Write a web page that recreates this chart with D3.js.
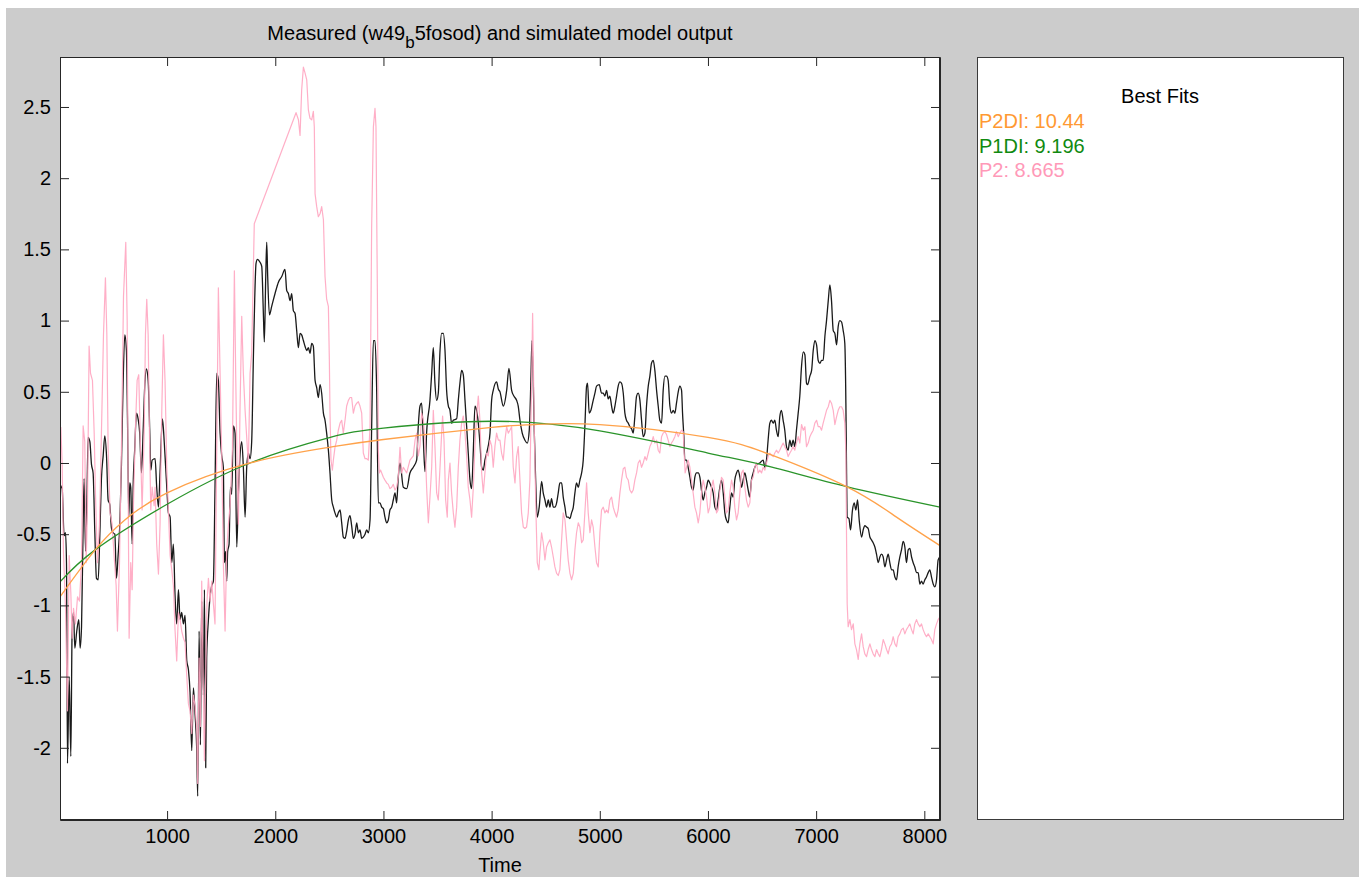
<!DOCTYPE html>
<html>
<head>
<meta charset="utf-8">
<script src="https://cdn.jsdelivr.net/npm/d3@7/dist/d3.min.js"></script>
<style>
  html, body { margin: 0; padding: 0; background: #ffffff; }
  svg { display: block; }
  text { font-family: "Liberation Sans", Arial, Helvetica, sans-serif; }
</style>
</head>
<body>
<svg id="chart" width="1359" height="877"></svg>
<script>
// Measured output (time, value)
const measured = [[10,-0.15],[24,-0.17],[30,-0.18],[48,-0.51],[61,-0.49],[70,-0.70],[79,-2.11],[95,-1.50],[110,-2.06],[122,-1.18],[135,-1.05],[147,-1.30],[165,-1.18],[184,-1.10],[196,-1.30],[209,-1.15],[221,-0.59],[233,-0.11],[246,-0.62],[258,-0.30],[270,0.18],[286,0.15],[301,-0.01],[316,-0.07],[332,-0.49],[347,-0.81],[363,-0.82],[378,-0.51],[393,-0.11],[409,0.05],[424,0.19],[440,0.05],[455,-0.26],[470,-0.29],[486,-0.46],[501,-0.49],[517,-0.50],[532,-0.81],[547,-0.65],[563,-0.43],[578,-0.01],[594,0.58],[609,0.90],[624,0.79],[634,0.31],[646,-0.38],[655,-0.14],[664,-0.17],[677,-0.57],[686,-0.17],[701,0.10],[717,0.35],[732,0.31],[747,0.21],[763,-0.07],[778,0.21],[794,0.55],[809,0.66],[825,0.58],[840,0.21],[849,-0.05],[862,0.02],[889,0.03],[904,-0.17],[920,-0.31],[935,-0.06],[957,0.31],[975,0.13],[997,-0.17],[1012,-0.35],[1028,-0.38],[1043,-0.70],[1058,-0.57],[1074,-0.94],[1089,-1.13],[1105,-0.89],[1120,-1.10],[1135,-1.05],[1151,-1.13],[1166,-1.07],[1182,-1.39],[1197,-1.45],[1212,-1.61],[1228,-2.02],[1243,-1.58],[1259,-1.77],[1274,-2.01],[1283,-2.34],[1296,-1.18],[1308,-1.98],[1320,-0.97],[1336,-1.63],[1345,-0.89],[1357,-2.14],[1366,-1.37],[1382,-1.10],[1397,-0.94],[1413,-0.86],[1428,-0.83],[1443,-0.17],[1459,0.63],[1474,0.58],[1490,0.21],[1505,0.05],[1520,-0.03],[1530,-0.70],[1542,-0.62],[1551,-0.83],[1560,-0.62],[1573,-0.57],[1585,-0.17],[1597,-0.22],[1613,0.26],[1628,0.21],[1644,-0.59],[1659,-0.22],[1674,0.05],[1690,0.15],[1705,-0.03],[1721,-0.38],[1736,-0.03],[1751,0.07],[1767,0.03],[1782,0.15],[1798,0.75],[1810,1.15],[1822,1.40],[1835,1.43],[1859,1.41],[1875,1.38],[1890,1.05],[1899,0.85],[1912,1.31],[1921,1.55],[1930,1.31],[1946,1.04],[1967,1.10],[1998,1.19],[2029,1.27],[2060,1.31],[2090,1.36],[2106,1.21],[2121,1.19],[2137,1.14],[2152,1.19],[2167,1.07],[2183,1.05],[2198,0.93],[2214,0.81],[2229,0.91],[2244,0.90],[2260,0.86],[2275,0.82],[2291,0.79],[2306,0.81],[2321,0.77],[2337,0.84],[2352,0.82],[2368,0.58],[2383,0.53],[2398,0.46],[2414,0.55],[2429,0.49],[2445,0.35],[2460,0.30],[2475,0.21],[2491,0.09],[2506,-0.07],[2522,-0.26],[2537,-0.31],[2552,-0.35],[2568,-0.38],[2583,-0.35],[2599,-0.33],[2614,-0.42],[2629,-0.52],[2645,-0.53],[2660,-0.48],[2676,-0.40],[2691,-0.37],[2706,-0.44],[2722,-0.53],[2737,-0.50],[2753,-0.42],[2768,-0.49],[2783,-0.47],[2799,-0.53],[2814,-0.52],[2830,-0.50],[2845,-0.47],[2860,-0.49],[2876,-0.40],[2891,0.25],[2907,0.86],[2922,0.86],[2937,0.53],[2953,-0.28],[2968,-0.28],[2984,-0.31],[2999,-0.32],[3014,-0.38],[3030,-0.42],[3045,-0.40],[3060,-0.33],[3076,-0.31],[3091,-0.26],[3107,-0.21],[3122,-0.28],[3137,-0.10],[3153,0.0],[3184,-0.17],[3215,-0.18],[3245,-0.07],[3276,-0.03],[3307,0.02],[3322,0.26],[3338,0.40],[3353,0.42],[3369,0.16],[3384,-0.06],[3399,0.21],[3430,0.44],[3446,0.63],[3461,0.81],[3476,0.56],[3492,0.44],[3507,0.49],[3523,0.79],[3538,0.91],[3553,0.91],[3569,0.79],[3584,0.51],[3600,0.40],[3615,0.37],[3630,0.28],[3646,0.30],[3677,0.31],[3692,0.44],[3707,0.56],[3723,0.65],[3738,0.62],[3754,0.44],[3769,0.26],[3784,0.07],[3800,-0.12],[3815,-0.18],[3831,0.09],[3846,0.40],[3861,0.37],[3877,0.28],[3892,0.14],[3908,-0.03],[3923,-0.05],[3938,0.02],[3954,0.07],[3969,0.12],[3985,0.21],[4000,0.44],[4015,0.51],[4046,0.57],[4062,0.52],[4077,0.50],[4108,0.40],[4139,0.51],[4160,0.665],[4185,0.51],[4206,0.47],[4231,0.44],[4246,0.40],[4262,0.30],[4283,0.21],[4308,0.16],[4330,0.14],[4348,0.23],[4363,0.58],[4373,0.86],[4385,0.58],[4394,0.23],[4407,-0.12],[4422,-0.38],[4440,-0.31],[4462,-0.13],[4477,-0.21],[4493,-0.26],[4508,-0.31],[4524,-0.26],[4539,-0.31],[4554,-0.25],[4570,-0.31],[4585,-0.31],[4601,-0.28],[4616,-0.21],[4631,-0.14],[4647,-0.14],[4662,-0.24],[4678,-0.31],[4693,-0.38],[4708,-0.38],[4724,-0.39],[4739,-0.35],[4755,-0.31],[4770,-0.21],[4785,-0.14],[4801,-0.17],[4816,-0.12],[4832,-0.07],[4847,0.02],[4862,0.255],[4878,0.54],[4887,0.56],[4902,0.35],[4918,0.37],[4939,0.44],[4955,0.49],[4970,0.54],[4995,0.55],[5016,0.49],[5032,0.49],[5047,0.47],[5063,0.51],[5078,0.45],[5093,0.47],[5109,0.40],[5124,0.35],[5140,0.40],[5155,0.47],[5170,0.54],[5186,0.57],[5201,0.56],[5217,0.49],[5232,0.35],[5247,0.30],[5263,0.28],[5278,0.255],[5294,0.24],[5309,0.21],[5324,0.325],[5340,0.47],[5355,0.49],[5371,0.44],[5386,0.30],[5401,0.185],[5417,0.21],[5432,0.40],[5448,0.54],[5463,0.61],[5478,0.70],[5494,0.72],[5509,0.65],[5525,0.51],[5540,0.40],[5555,0.30],[5571,0.28],[5586,0.51],[5602,0.61],[5617,0.61],[5632,0.58],[5648,0.40],[5663,0.35],[5679,0.37],[5694,0.35],[5709,0.42],[5725,0.50],[5740,0.54],[5756,0.51],[5765,0.35],[5777,0.185],[5786,0.02],[5802,0.02],[5817,-0.03],[5833,-0.10],[5848,-0.17],[5863,-0.19],[5879,-0.10],[5894,-0.07],[5910,-0.07],[5925,-0.10],[5940,-0.19],[5956,-0.26],[5971,-0.21],[5987,-0.17],[6002,-0.12],[6017,-0.14],[6033,-0.17],[6048,-0.21],[6064,-0.31],[6079,-0.33],[6094,-0.26],[6110,-0.17],[6125,-0.12],[6141,-0.21],[6156,-0.35],[6171,-0.40],[6187,-0.42],[6202,-0.31],[6218,-0.21],[6233,-0.24],[6248,-0.12],[6264,-0.07],[6279,-0.05],[6295,-0.10],[6310,-0.17],[6325,-0.12],[6341,-0.07],[6356,-0.12],[6372,-0.19],[6387,-0.24],[6402,-0.12],[6418,-0.07],[6433,-0.03],[6449,-0.01],[6479,0.0],[6510,0.02],[6526,-0.03],[6541,0.02],[6556,0.16],[6572,0.28],[6587,0.30],[6603,0.28],[6618,0.30],[6633,0.23],[6649,0.185],[6664,0.325],[6679,0.37],[6695,0.30],[6710,0.23],[6726,0.115],[6741,0.09],[6757,0.16],[6772,0.115],[6787,0.16],[6803,0.115],[6818,0.23],[6834,0.35],[6849,0.47],[6865,0.68],[6881,0.78],[6896,0.76],[6911,0.56],[6921,0.55],[6942,0.61],[6958,0.65],[6973,0.79],[6988,0.86],[7004,0.83],[7019,0.72],[7035,0.70],[7050,0.72],[7065,0.72],[7081,0.89],[7096,1.00],[7112,1.14],[7127,1.25],[7142,1.14],[7158,0.93],[7173,0.91],[7189,0.83],[7204,0.96],[7219,1.00],[7235,0.99],[7250,0.93],[7265,0.84],[7275,0.42],[7281,-0.05],[7287,-0.38],[7303,-0.39],[7318,-0.47],[7336,-0.33],[7352,-0.28],[7367,-0.33],[7383,-0.26],[7398,-0.40],[7420,-0.52],[7435,-0.47],[7450,-0.44],[7466,-0.45],[7481,-0.46],[7497,-0.52],[7512,-0.54],[7527,-0.56],[7543,-0.59],[7558,-0.64],[7574,-0.70],[7589,-0.66],[7604,-0.64],[7620,-0.66],[7635,-0.73],[7651,-0.68],[7666,-0.64],[7681,-0.70],[7697,-0.75],[7712,-0.75],[7728,-0.80],[7743,-0.82],[7758,-0.73],[7774,-0.66],[7789,-0.61],[7805,-0.55],[7820,-0.59],[7835,-0.70],[7851,-0.61],[7866,-0.60],[7882,-0.66],[7897,-0.70],[7912,-0.73],[7928,-0.77],[7943,-0.77],[7959,-0.85],[7974,-0.83],[7989,-0.85],[8005,-0.82],[8020,-0.80],[8036,-0.77],[8051,-0.75],[8066,-0.80],[8082,-0.85],[8097,-0.87],[8113,-0.82],[8128,-0.68],[8145,-0.66]];

// Simulated output of model P2 (time, value)
const simP2 = [[10,0.25],[18,0.25],[30,-0.01],[42,-0.62],[61,-1.02],[79,-1.74],[95,-0.65],[110,-0.91],[122,-1.23],[135,-1.02],[153,-1.13],[172,-0.94],[190,-0.97],[209,-0.70],[224,0.26],[239,0.15],[252,-0.70],[264,-0.30],[279,0.82],[292,0.63],[310,0.58],[326,0.21],[338,-0.22],[356,-0.70],[375,-0.43],[393,0.21],[412,0.90],[430,1.30],[443,0.90],[455,0.10],[473,-0.35],[492,-0.43],[510,-0.65],[529,-0.86],[541,-1.18],[560,-0.70],[578,0.10],[597,1.17],[618,1.55],[631,1.00],[640,-0.17],[649,-1.23],[664,-0.70],[677,-0.89],[689,-0.30],[708,0.26],[723,0.58],[738,0.62],[751,0.21],[769,-0.33],[788,0.21],[800,0.90],[812,1.15],[825,0.90],[837,0.21],[849,-0.33],[862,-0.17],[880,-0.30],[889,-0.17],[904,-0.57],[920,-0.78],[935,-0.43],[951,0.37],[966,0.90],[981,0.58],[997,-0.03],[1012,-0.33],[1028,-0.65],[1043,-0.75],[1058,-0.86],[1074,-1.18],[1089,-1.39],[1105,-1.05],[1120,-1.10],[1135,-1.18],[1151,-1.23],[1166,-1.26],[1182,-1.50],[1197,-1.69],[1212,-1.74],[1228,-1.90],[1243,-1.63],[1259,-1.71],[1274,-1.87],[1283,-2.25],[1296,-1.37],[1308,-1.85],[1320,-0.83],[1336,-1.63],[1345,-2.09],[1357,-1.50],[1369,-0.97],[1382,-0.81],[1397,-0.97],[1413,-0.83],[1428,-0.99],[1443,-1.13],[1459,0.10],[1474,1.23],[1490,0.63],[1505,0.05],[1520,-0.70],[1536,-1.18],[1551,-0.62],[1567,-0.43],[1582,-0.30],[1604,0.10],[1622,1.35],[1634,0.63],[1647,-0.03],[1659,-0.43],[1674,0.37],[1690,1.03],[1705,0.63],[1721,0.37],[1736,0.18],[1751,-0.01],[1767,0.63],[1782,0.77],[1798,1.38],[1806,1.68],[2192,2.46],[2214,2.41],[2229,2.30],[2244,2.62],[2260,2.78],[2275,2.74],[2291,2.69],[2306,2.48],[2321,2.42],[2337,2.41],[2352,2.47],[2361,2.36],[2368,1.89],[2383,1.80],[2398,1.73],[2414,1.75],[2429,1.80],[2445,1.71],[2460,1.31],[2475,1.15],[2491,1.10],[2500,0.72],[2506,0.35],[2515,0.02],[2528,-0.05],[2537,0.02],[2552,0.11],[2568,0.16],[2583,0.23],[2599,0.28],[2614,0.30],[2629,0.21],[2645,0.30],[2660,0.40],[2676,0.44],[2691,0.46],[2706,0.46],[2722,0.35],[2737,0.40],[2753,0.42],[2768,0.43],[2783,0.40],[2799,0.35],[2814,0.07],[2830,0.03],[2845,0.03],[2860,0.02],[2876,0.25],[2891,1.66],[2907,2.36],[2922,2.49],[2931,2.36],[2944,1.19],[2953,0.09],[2962,-0.07],[2974,-0.05],[2984,-0.07],[2999,-0.10],[3014,-0.12],[3030,-0.14],[3045,-0.15],[3060,-0.18],[3076,-0.17],[3091,-0.15],[3107,-0.19],[3122,-0.17],[3137,-0.10],[3153,0.11],[3168,-0.07],[3184,-0.03],[3215,-0.07],[3245,0.02],[3276,0.05],[3292,0.16],[3307,0.21],[3322,0.05],[3338,0.12],[3353,0.35],[3369,0.30],[3384,0.16],[3399,-0.17],[3415,-0.42],[3430,-0.24],[3446,-0.03],[3461,0.37],[3476,0.12],[3492,-0.21],[3507,-0.26],[3523,-0.03],[3538,0.21],[3547,0.33],[3560,0.16],[3575,-0.26],[3590,-0.38],[3600,-0.12],[3615,0.0],[3630,-0.21],[3646,-0.35],[3661,-0.45],[3677,-0.31],[3692,-0.03],[3707,0.16],[3723,0.28],[3738,0.33],[3754,0.21],[3769,0.05],[3784,-0.17],[3800,-0.26],[3815,-0.38],[3831,-0.17],[3846,0.12],[3861,0.33],[3877,0.47],[3892,0.30],[3908,-0.07],[3923,-0.21],[3938,-0.07],[3954,0.07],[3969,0.05],[3985,0.16],[4000,0.12],[4015,-0.03],[4031,0.12],[4046,0.21],[4062,0.16],[4077,0.16],[4092,0.07],[4108,0.02],[4123,0.16],[4139,0.255],[4154,0.21],[4169,0.23],[4185,0.255],[4200,-0.03],[4216,-0.14],[4231,0.045],[4246,0.115],[4262,-0.12],[4277,-0.35],[4293,-0.45],[4308,-0.46],[4323,-0.45],[4339,-0.35],[4354,-0.12],[4370,0.58],[4379,1.05],[4388,0.58],[4397,0.115],[4410,-0.35],[4422,-0.70],[4437,-0.75],[4447,-0.63],[4462,-0.49],[4477,-0.56],[4493,-0.68],[4508,-0.59],[4524,-0.56],[4539,-0.54],[4554,-0.59],[4570,-0.66],[4585,-0.73],[4601,-0.775],[4616,-0.79],[4631,-0.75],[4647,-0.54],[4662,-0.35],[4678,-0.40],[4693,-0.54],[4708,-0.68],[4724,-0.775],[4739,-0.82],[4755,-0.775],[4770,-0.61],[4785,-0.49],[4801,-0.42],[4816,-0.45],[4832,-0.56],[4847,-0.54],[4862,-0.35],[4878,-0.14],[4893,-0.35],[4909,-0.49],[4924,-0.40],[4939,-0.45],[4955,-0.59],[4970,-0.70],[4986,-0.73],[5001,-0.49],[5016,-0.33],[5032,-0.31],[5047,-0.35],[5063,-0.33],[5078,-0.35],[5093,-0.26],[5109,-0.24],[5124,-0.31],[5140,-0.35],[5155,-0.38],[5170,-0.33],[5186,-0.21],[5201,-0.12],[5217,-0.04],[5232,-0.03],[5247,-0.10],[5263,-0.12],[5278,-0.19],[5294,-0.21],[5309,-0.19],[5324,-0.12],[5340,-0.07],[5355,0.0],[5371,0.02],[5386,-0.03],[5401,0.0],[5417,0.045],[5432,0.02],[5448,0.07],[5463,0.115],[5478,0.14],[5494,0.185],[5509,0.14],[5525,0.16],[5540,0.09],[5555,0.07],[5571,0.185],[5586,0.21],[5602,0.22],[5617,0.20],[5632,0.16],[5648,0.115],[5663,0.14],[5679,0.16],[5694,0.185],[5709,0.22],[5725,0.185],[5740,0.21],[5756,0.23],[5771,0.22],[5780,0.07],[5789,-0.07],[5802,-0.03],[5817,0.02],[5833,-0.03],[5848,-0.12],[5863,-0.21],[5879,-0.31],[5894,-0.35],[5910,-0.42],[5925,-0.35],[5940,-0.21],[5956,-0.12],[5971,-0.17],[5987,-0.24],[6002,-0.35],[6017,-0.31],[6033,-0.17],[6048,-0.12],[6064,-0.21],[6079,-0.35],[6094,-0.33],[6110,-0.19],[6125,-0.10],[6141,-0.12],[6156,-0.24],[6171,-0.35],[6187,-0.33],[6202,-0.21],[6218,-0.12],[6233,-0.17],[6248,-0.31],[6264,-0.40],[6279,-0.35],[6295,-0.21],[6310,-0.07],[6325,-0.05],[6341,-0.17],[6356,-0.26],[6372,-0.31],[6387,-0.28],[6402,-0.12],[6418,-0.10],[6433,-0.03],[6449,0.0],[6464,-0.07],[6479,-0.05],[6495,-0.07],[6510,-0.03],[6526,-0.05],[6541,0.0],[6556,0.045],[6572,0.07],[6587,0.056],[6603,0.045],[6618,0.07],[6633,0.09],[6649,0.07],[6664,0.09],[6679,0.115],[6695,0.14],[6710,0.115],[6726,0.09],[6741,0.045],[6757,0.07],[6772,0.09],[6787,0.115],[6803,0.09],[6818,0.14],[6834,0.185],[6849,0.14],[6865,0.27],[6881,0.23],[6896,0.255],[6911,0.115],[6927,0.14],[6942,0.185],[6958,0.21],[6973,0.23],[6988,0.28],[7004,0.30],[7019,0.255],[7035,0.255],[7050,0.23],[7065,0.28],[7081,0.325],[7096,0.37],[7112,0.395],[7127,0.44],[7142,0.42],[7158,0.37],[7173,0.27],[7189,0.325],[7204,0.37],[7219,0.395],[7235,0.395],[7250,0.37],[7265,0.28],[7275,0.07],[7281,-0.52],[7287,-0.99],[7296,-1.15],[7312,-1.10],[7327,-1.17],[7343,-1.13],[7358,-1.27],[7373,-1.31],[7389,-1.38],[7404,-1.27],[7420,-1.20],[7435,-1.29],[7450,-1.34],[7466,-1.36],[7481,-1.31],[7497,-1.27],[7512,-1.31],[7527,-1.34],[7543,-1.36],[7558,-1.31],[7574,-1.34],[7589,-1.36],[7604,-1.31],[7620,-1.24],[7635,-1.27],[7651,-1.31],[7666,-1.34],[7681,-1.29],[7697,-1.27],[7712,-1.22],[7728,-1.27],[7743,-1.29],[7758,-1.22],[7774,-1.20],[7789,-1.17],[7805,-1.16],[7820,-1.20],[7835,-1.17],[7851,-1.15],[7866,-1.13],[7882,-1.17],[7897,-1.20],[7912,-1.13],[7928,-1.10],[7943,-1.13],[7959,-1.15],[7974,-1.13],[7989,-1.17],[8005,-1.20],[8020,-1.22],[8036,-1.20],[8051,-1.22],[8066,-1.24],[8082,-1.27],[8097,-1.17],[8113,-1.13],[8128,-1.10],[8145,-1.08]];

// Smooth fitted outputs of models P2DI and P1DI (time, value)
const fitP2DI = [[10,-0.94],[335,-0.61],[609,-0.40],[1000,-0.21],[1767,0.0],[2500,0.11],[3000,0.165],[4000,0.25],[4385,0.27],[5000,0.27],[6000,0.18],[6573,0.06],[7281,-0.166],[7743,-0.38],[8145,-0.58]];
const fitP1DI = [[10,-0.835],[335,-0.61],[1000,-0.29],[1767,0.0],[2500,0.178],[3000,0.245],[4000,0.293],[5000,0.225],[6000,0.07],[6573,-0.026],[7281,-0.166],[8145,-0.31]];

// Legend: model names and fit scores
const fitNames = ["P2DI", "P1DI", "P2"];
const fitScores = ["10.44", "9.196", "8.665"];
const fitColors = ["#ff9933", "#108a10", "#ff99b8"];

const xTicks = [1000, 2000, 3000, 4000, 5000, 6000, 7000, 8000];
const yTicks = [-2, -1.5, -1, -0.5, 0, 0.5, 1, 1.5, 2, 2.5];

const W = 1359, H = 877;
const plot = { left: 60, right: 940, top: 57, bottom: 820 };
const panel = { left: 977, right: 1344, top: 57, bottom: 820 };
const axisColor = "#262626";
const fontSize = 20;

const svg = d3.select("#chart");

// figure background
svg.append("rect").attr("x", 6).attr("y", 8).attr("width", W - 6).attr("height", H - 8).attr("fill", "#cccccc");

const x = d3.scaleLinear().domain([10, 8145]).range([plot.left, plot.right]);
const y = d3.scaleLinear().domain([-2.507, 2.851]).range([plot.bottom, plot.top]);

// plot area
svg.append("rect")
  .attr("x", plot.left).attr("y", plot.top)
  .attr("width", plot.right - plot.left).attr("height", plot.bottom - plot.top)
  .attr("fill", "#ffffff");

svg.append("clipPath").attr("id", "plotClip")
  .append("rect")
  .attr("x", plot.left).attr("y", plot.top)
  .attr("width", plot.right - plot.left).attr("height", plot.bottom - plot.top);

const lines = svg.append("g").attr("clip-path", "url(#plotClip)");

const smoothLine = d3.line().x(d => x(d[0])).y(d => y(d[1])).curve(d3.curveMonotoneX);
const straightLine = d3.line().x(d => x(d[0])).y(d => y(d[1]));

lines.append("path").datum(measured)
  .attr("d", smoothLine).attr("fill", "none")
  .attr("stroke", "#1a1a1a").attr("stroke-width", 1.3).attr("stroke-linejoin", "round");

lines.append("path").datum(simP2)
  .attr("d", straightLine).attr("fill", "none")
  .attr("stroke", "#ffa6c1").attr("stroke-width", 1.2).attr("stroke-opacity", 0.9)
  .attr("stroke-linejoin", "round");

const fitLine = d3.line().x(d => x(d[0])).y(d => y(d[1])).curve(d3.curveNatural);
lines.append("path").datum(fitP1DI)
  .attr("d", fitLine).attr("fill", "none")
  .attr("stroke", "#2a942a").attr("stroke-width", 1.3);
lines.append("path").datum(fitP2DI)
  .attr("d", fitLine).attr("fill", "none")
  .attr("stroke", "#ffa24a").attr("stroke-width", 1.3);

// axes with inward ticks on all four sides
const gx = svg.append("g").attr("transform", `translate(0,${plot.bottom})`)
  .call(d3.axisBottom(x).tickValues(xTicks).tickFormat(d => String(d))
    .tickSizeInner(-9).tickSizeOuter(0).tickPadding(9));
const gxTop = svg.append("g").attr("transform", `translate(0,${plot.top})`)
  .call(d3.axisTop(x).tickValues(xTicks).tickFormat("")
    .tickSizeInner(-9).tickSizeOuter(0));
const gy = svg.append("g").attr("transform", `translate(${plot.left},0)`)
  .call(d3.axisLeft(y).tickValues(yTicks).tickFormat(d => String(d))
    .tickSizeInner(-9).tickSizeOuter(0).tickPadding(9));
const gyRight = svg.append("g").attr("transform", `translate(${plot.right},0)`)
  .call(d3.axisRight(y).tickValues(yTicks).tickFormat("")
    .tickSizeInner(-9).tickSizeOuter(0));

[gx, gxTop, gy, gyRight].forEach(g => {
  g.select(".domain").attr("stroke", axisColor);
  g.selectAll(".tick line").attr("stroke", axisColor);
  g.selectAll(".tick text")
    .attr("fill", "#000")
    .style("font-size", fontSize + "px")
    .style("font-family", '"Liberation Sans", Arial, sans-serif');
});

// plot frame
svg.append("rect")
  .attr("x", plot.left + 0.5).attr("y", plot.top + 0.5)
  .attr("width", plot.right - plot.left - 1).attr("height", plot.bottom - plot.top - 1)
  .attr("fill", "none").attr("stroke", axisColor).attr("stroke-width", 1);

// x-axis label
svg.append("text")
  .attr("x", (plot.left + plot.right) / 2).attr("y", 872)
  .attr("text-anchor", "middle")
  .style("font-size", fontSize + "px")
  .text("Time");

// title with subscript
const title = svg.append("text")
  .attr("x", (plot.left + plot.right) / 2).attr("y", 40)
  .attr("text-anchor", "middle")
  .style("font-size", "20px");
title.append("tspan").text("Measured (w49");
title.append("tspan").attr("dy", 8).style("font-size", "17px").text("b");
title.append("tspan").attr("dy", -8).text("5fosod) and simulated model output");

// legend panel
svg.append("rect")
  .attr("x", panel.left + 0.5).attr("y", panel.top + 0.5)
  .attr("width", panel.right - panel.left - 1).attr("height", panel.bottom - panel.top - 1)
  .attr("fill", "#ffffff").attr("stroke", "#3a3a3a").attr("stroke-width", 1);

svg.append("text")
  .attr("x", 1160).attr("y", 103)
  .attr("text-anchor", "middle")
  .style("font-size", fontSize + "px")
  .text("Best Fits");

svg.selectAll(".fit-label")
  .data(fitNames)
  .enter().append("text")
  .attr("class", "fit-label")
  .attr("x", 979)
  .attr("y", (d, i) => 128 + i * 24.7)
  .attr("fill", (d, i) => fitColors[i])
  .style("font-size", fontSize + "px")
  .text((d, i) => `${d}: ${fitScores[i]}`);
</script>
</body>
</html>
